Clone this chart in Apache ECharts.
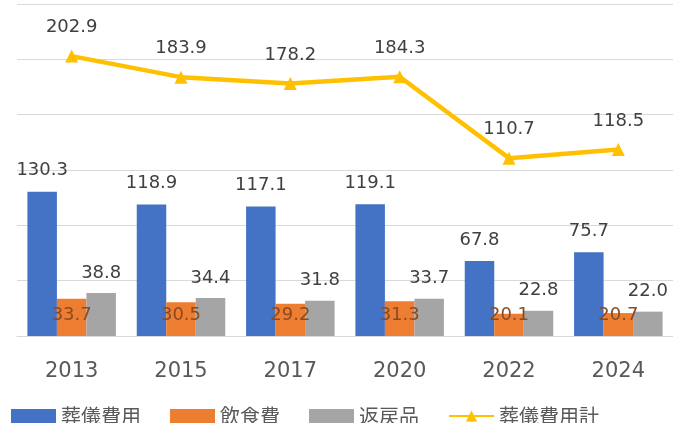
<!DOCTYPE html>
<html><head><meta charset="utf-8">
<script src="https://cdn.jsdelivr.net/npm/echarts@6/dist/echarts.min.js"></script>
<style>html,body{margin:0;padding:0;background:#fff}#c{width:673px;height:423px}</style>
</head><body><div id="c"></div>
<script>
const categories = ['2013','2015','2017','2020','2022','2024'];
const funeralCost = [130.3,118.9,117.1,119.1,67.8,75.7];
const foodCost = [33.7,30.5,29.2,31.3,20.1,20.7];
const returnGifts = [38.8,34.4,31.8,33.7,22.8,22.0];
const totalCost = [202.9,183.9,178.2,184.3,110.7,118.5];
const seriesNames = ['葬儀費用','飲食費','返戻品','葬儀費用計'];

const font = '"Noto Sans CJK JP","Noto Sans",sans-serif';
const numFont = '"DejaVu Sans",sans-serif';
const chart = echarts.init(document.getElementById('c'));
const barW = 29.5;
chart.setOption({
  animation:false,
  backgroundColor:'#fff',
  textStyle:{fontFamily:font},
  grid:{left:17,right:-4,top:4,bottom:87},
  legend:{
    left:11, top:406, padding:0, itemWidth:45, itemHeight:14, itemGap:29,
    textStyle:{fontSize:20,color:'#595959',fontFamily:font},
    data:[
      {name:seriesNames[0],icon:'rect'},
      {name:seriesNames[1],icon:'rect'},
      {name:seriesNames[2],icon:'rect'},
      {name:seriesNames[3]}
    ]
  },
  xAxis:{
    type:'category', data:categories,
    axisLine:{show:true,lineStyle:{color:'#d9d9d9'}},
    axisTick:{show:false},
    axisLabel:{fontSize:21,color:'#595959',margin:25,fontFamily:numFont}
  },
  yAxis:[
    {type:'value',min:0,max:300,interval:50,
     axisLabel:{show:false},axisLine:{show:false},axisTick:{show:false},
     splitLine:{lineStyle:{color:'#d9d9d9',width:1}}},
    {type:'value',min:-50,max:250,interval:50,show:false,splitLine:{show:false}}
  ],
  series:[
    {name:seriesNames[0],type:'bar',data:funeralCost,barWidth:barW,barGap:'0%',
     itemStyle:{color:'#4472C4'},
     label:{show:true,position:'top',distance:12,fontSize:18,color:'#404040',fontFamily:numFont}},
    {name:seriesNames[1],type:'bar',data:foodCost,barWidth:barW,barGap:'0%',
     itemStyle:{color:'#ED7D31'},
     label:{show:true,position:'insideBottom',distance:12,fontSize:18,color:'#8a4a22',fontFamily:numFont}},
    {name:seriesNames[2],type:'bar',data:returnGifts,barWidth:barW,barGap:'0%',
     itemStyle:{color:'#A5A5A5'},
     label:{show:true,position:'top',distance:11,fontSize:18,color:'#404040',fontFamily:numFont,
       formatter:p=>p.value.toFixed(1)}},
    {name:seriesNames[3],type:'line',yAxisIndex:1,data:totalCost,
     symbol:'triangle',symbolSize:13,
     lineStyle:{color:'#FFC000',width:4.5},
     itemStyle:{color:'#FFC000'},
     label:{show:true,position:'top',distance:13,fontSize:18,color:'#404040',fontFamily:numFont}}
  ]
});
</script></body></html>
